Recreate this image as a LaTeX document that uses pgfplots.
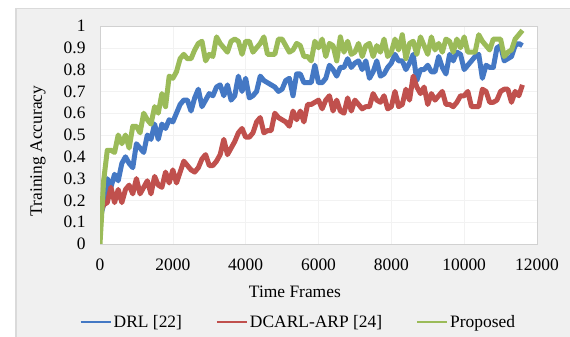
\documentclass[border=0pt]{standalone}
\usepackage{fontspec}
\setmainfont{Liberation Serif}
\usepackage{pgfplots}
\pgfplotsset{compat=1.18}
\usepackage{pgfplotstable}
\definecolor{cBlue}{HTML}{4478C4}
\definecolor{cRed}{HTML}{C0504D}
\definecolor{cGreen}{HTML}{9BBB59}
\definecolor{bgGray}{HTML}{F0F0F0}
\definecolor{edgeGray}{HTML}{DADADA}
\pgfplotstableread{
x b r g
0 0.12 0.14 0.00
100 0.18 0.18 0.29
200 0.30 0.19 0.43
300 0.26 0.26 0.43
400 0.32 0.19 0.42
500 0.29 0.25 0.50
600 0.37 0.19 0.46
700 0.40 0.25 0.50
800 0.37 0.27 0.44
900 0.35 0.23 0.54
1000 0.46 0.30 0.54
1100 0.44 0.23 0.51
1200 0.42 0.26 0.60
1300 0.50 0.29 0.57
1400 0.48 0.23 0.55
1500 0.55 0.31 0.63
1600 0.48 0.27 0.60
1700 0.55 0.26 0.69
1800 0.53 0.33 0.63
1900 0.57 0.28 0.77
2000 0.56 0.34 0.76
2100 0.60 0.28 0.79
2200 0.64 0.33 0.85
2300 0.66 0.38 0.87
2400 0.66 0.36 0.85
2500 0.61 0.34 0.85
2600 0.67 0.33 0.89
2700 0.71 0.35 0.92
2800 0.63 0.39 0.93
2900 0.66 0.41 0.84
3000 0.69 0.36 0.87
3100 0.68 0.36 0.86
3200 0.72 0.38 0.95
3300 0.73 0.41 0.92
3400 0.68 0.48 0.90
3500 0.73 0.41 0.88
3600 0.66 0.44 0.93
3700 0.68 0.47 0.94
3800 0.77 0.51 0.93
3900 0.70 0.53 0.87
4000 0.76 0.49 0.93
4100 0.67 0.49 0.93
4200 0.68 0.51 0.88
4300 0.70 0.56 0.90
4400 0.77 0.58 0.92
4500 0.75 0.51 0.95
4600 0.74 0.52 0.87
4700 0.73 0.52 0.87
4800 0.72 0.60 0.87
4900 0.70 0.58 0.94
5000 0.71 0.57 0.94
5100 0.75 0.56 0.91
5200 0.76 0.54 0.88
5300 0.68 0.61 0.89
5400 0.78 0.57 0.92
5500 0.78 0.61 0.91
5600 0.74 0.56 0.86
5700 0.74 0.64 0.86
5800 0.74 0.64 0.84
5900 0.82 0.65 0.93
6000 0.74 0.66 0.90
6100 0.74 0.62 0.94
6200 0.76 0.66 0.86
6300 0.82 0.68 0.92
6400 0.80 0.61 0.91
6500 0.77 0.66 0.84
6600 0.81 0.61 0.95
6700 0.81 0.60 0.88
6800 0.85 0.67 0.93
6900 0.81 0.61 0.87
7000 0.83 0.66 0.88
7100 0.84 0.64 0.92
7200 0.80 0.62 0.86
7300 0.84 0.63 0.91
7400 0.76 0.63 0.92
7500 0.79 0.69 0.86
7600 0.84 0.66 0.91
7700 0.77 0.65 0.88
7800 0.78 0.68 0.94
7900 0.81 0.62 0.86
8000 0.83 0.63 0.88
8100 0.87 0.70 0.94
8200 0.84 0.63 0.89
8300 0.84 0.64 0.96
8400 0.80 0.71 0.85
8500 0.83 0.66 0.92
8600 0.87 0.77 0.93
8700 0.75 0.72 0.87
8800 0.80 0.69 0.95
8900 0.80 0.72 0.91
9000 0.82 0.64 0.87
9100 0.79 0.69 0.95
9200 0.79 0.66 0.89
9300 0.86 0.68 0.92
9400 0.81 0.70 0.88
9500 0.78 0.64 0.94
9600 0.87 0.64 0.93
9700 0.84 0.63 0.88
9800 0.88 0.65 0.94
9900 0.87 0.68 0.90
10000 0.80 0.68 0.95
10100 0.82 0.70 0.88
10200 0.84 0.63 0.88
10300 0.86 0.63 0.88
10400 0.87 0.63 0.96
10500 0.76 0.71 0.93
10600 0.82 0.70 0.91
10700 0.81 0.65 0.89
10800 0.81 0.65 0.94
10900 0.90 0.66 0.94
11000 0.91 0.70 0.94
11100 0.84 0.71 0.86
11200 0.85 0.71 0.88
11300 0.86 0.65 0.89
11400 0.91 0.70 0.94
11500 0.92 0.68 0.96
11600 0.91 0.73 0.98
}\datatable
\begin{document}
\begin{tikzpicture}
\useasboundingbox (0,0) rectangle (570bp,337bp);
\fill[white] (0,0) rectangle (570bp,337bp);
\fill[bgGray] (15bp,0) rectangle (570bp,329bp);
\draw[edgeGray, line width=1.5bp] (15.75bp,0) -- (15.75bp,328.25bp) -- (570bp,328.25bp);
\begin{axis}[
  at={(100bp,93bp)}, anchor=south west,
  scale only axis, width=437bp, height=218bp,
  xmin=0, xmax=12000, ymin=0, ymax=1,
  xtick={0,2000,4000,6000,8000,10000,12000},
  ytick={0,0.1,0.2,0.3,0.4,0.5,0.6,0.7,0.8,0.9,1},
  scaled ticks=false,
  /pgf/number format/assume math mode=true,
  xticklabel style={/pgf/number format/set thousands separator={}, /tikz/yshift=-11bp},
  yticklabel style={/pgf/number format/fixed, /pgf/number format/precision=1, /tikz/xshift=-11bp},
  major tick length=0pt,
  axis line style={draw=black!18},
  grid=major, grid style={draw=black!5},
  axis background/.style={fill=white},
  tick label style={font=\fontsize{17.5}{21}\selectfont},
  xlabel={Time Frames},
  ylabel={Training Accuracy},
  label style={font=\fontsize{17.5}{21}\selectfont},
  xlabel style={at={(axis description cs:0.446,0)}, anchor=center, yshift=-47.5bp},
  ylabel style={at={(axis description cs:-0.142,0.427)}, anchor=center},
  legend columns=3,
  legend style={at={(axis description cs:0.454,-0.358)}, anchor=center,
    draw=none, fill=none, font=\fontsize{17.5}{21}\selectfont,
    /tikz/every even column/.append style={column sep=32bp}},
  legend image code/.code={\draw[#1, line width=2bp] (0bp,0bp) -- (30bp,0bp);},
]
\addplot[cBlue, line width=5bp, line join=round] table[x=x, y=b] {\datatable};
\addlegendentry{DRL [22]}
\addplot[cRed, line width=5bp, line join=round] table[x=x, y=r] {\datatable};
\addlegendentry{DCARL-ARP [24]}
\addplot[cGreen, line width=5bp, line join=round] table[x=x, y=g] {\datatable};
\addlegendentry{Proposed}
\end{axis}
\end{tikzpicture}
\end{document}
